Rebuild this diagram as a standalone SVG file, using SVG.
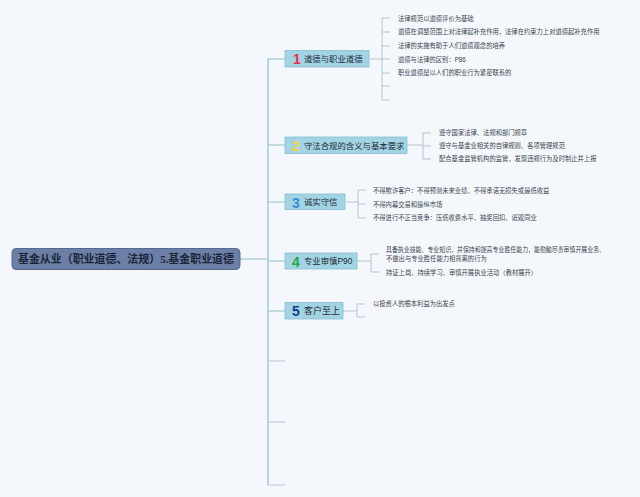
<svg xmlns="http://www.w3.org/2000/svg" width="640" height="497" viewBox="0 0 640 497">
<style>
.bg{fill:#f4f8fc}
.trunk{stroke:#94c0c6;stroke-width:1.2;fill:none}
.sub{stroke:#b5c4cc;stroke-width:1;fill:none}
.node{fill:#a3d4e4;stroke:#86bfd2;stroke-width:0.8}
.root{fill:#6b7fa7;stroke:#56698f;stroke-width:1}
.rt{font-family:"Liberation Serif","Noto Sans CJK SC",serif;font-size:11.3px;font-weight:bold;fill:#1b2538}
.nt{font-family:"Liberation Sans","Noto Sans CJK SC",sans-serif;font-size:8.4px;fill:#1f2b38}
.num{font-family:"Liberation Sans","Noto Sans CJK SC",sans-serif;font-size:14px;font-weight:bold}
.ct{font-family:"Liberation Sans","Noto Sans CJK SC",sans-serif;font-size:6.3px;fill:#3a4450}
</style>
<rect class="bg" x="0" y="0" width="640" height="497"/>
<g id="connectors">
<path class="trunk" d="M240 259 H268 M268 59 V485 M268 59 H285 M268 145 H285 M268 202 H285 M268 261 H285 M268 311 H285"/>
<path class="sub" d="M268 361 H285 M268 422 H285 M268 485 H285"/>
<path class="sub" d="M369 59 H382 M382 18 V100 M382 18 H390 M382 32 H390 M382 46 H390 M382 59 H390 M382 73 H390 M382 86 H390 M382 100 H390"/>
<path class="sub" d="M407 145 H423 M423 133 V159 M423 133 H431 M423 146 H431 M423 159 H431"/>
<path class="sub" d="M345 202 H358 M358 190 V218 M358 190 H366 M358 204 H366 M358 218 H366"/>
<path class="sub" d="M357 261 H371 M371 254 V272 M371 254 H379 M371 272 H379"/>
<path class="sub" d="M343 311 H357 M357 304 V317 M357 304 H365 M357 317 H365"/>
</g>
<g id="root">
<rect class="root" x="12" y="248.5" width="228" height="21" rx="4"/>
<text class="rt" x="18" y="263" textLength="216" lengthAdjust="spacingAndGlyphs">基金从业（职业道德、法规）5.基金职业道德</text>
</g>
<g id="n1">
<rect class="node" x="285" y="50.5" width="84" height="16.5"/>
<text class="num" x="293" y="64" fill="#e5334d">1</text>
<text class="nt" x="304" y="62">道德与职业道德</text>
</g>
<g id="n2">
<rect class="node" x="285" y="137" width="122" height="16.5"/>
<text class="num" x="292" y="151" fill="#f2d24a">2</text>
<text class="nt" x="304" y="148.5">守法合规的含义与基本要求</text>
</g>
<g id="n3">
<rect class="node" x="285" y="194" width="60" height="15.5"/>
<text class="num" x="292" y="207.5" fill="#3b8ed6">3</text>
<text class="nt" x="304" y="205">诚实守信</text>
</g>
<g id="n4">
<rect class="node" x="285" y="253" width="72" height="16"/>
<text class="num" x="292" y="266.5" fill="#27a547">4</text>
<text class="nt" x="304" y="264">专业审慎P90</text>
</g>
<g id="n5">
<rect class="node" x="285" y="302.5" width="58" height="16.5"/>
<text class="num" x="292" y="316" fill="#1b3c8c">5</text>
<text class="nt" x="304" y="314" style="font-size:9px">客户至上</text>
</g>
<g id="n1-children">
<text class="ct" x="398" y="20.5">法律规范以道德评价为基础</text>
<text class="ct" x="398" y="34">道德在调整范围上对法律起补充作用，法律在约束力上对道德起补充作用</text>
<text class="ct" x="398" y="48">法律的实施有助于人们道德观念的培养</text>
<text class="ct" x="398" y="61.5">道德与法律的区别：P86</text>
<text class="ct" x="398" y="75">职业道德是以人们的职业行为紧密联系的</text>
</g>
<g id="n2-children">
<text class="ct" x="439" y="135">遵守国家法律、法规和部门规章</text>
<text class="ct" x="439" y="148">遵守与基金业相关的自律规则、各项管理规范</text>
<text class="ct" x="439" y="161">配合基金监管机构的监管，发现违规行为及时制止并上报</text>
</g>
<g id="n3-children">
<text class="ct" x="373" y="193">不得欺诈客户：不得预测未来业绩、不得承诺无损失或最低收益</text>
<text class="ct" x="373" y="206.5">不得内幕交易和操纵市场</text>
<text class="ct" x="373" y="220">不得进行不正当竞争：压低收费水平、抽奖回扣、诋毁同业</text>
</g>
<g id="n4-children">
<text class="ct" x="386" y="252" textLength="219" lengthAdjust="spacingAndGlyphs">具备执业技能、专业知识，并保持和提高专业胜任能力，能勤勉尽责审慎开展业务、</text>
<text class="ct" x="386" y="261">不做出与专业胜任能力相背离的行为</text>
<text class="ct" x="386" y="275">持证上岗、持续学习、审慎开展执业活动（教材展开）</text>
</g>
<g id="n5-children">
<text class="ct" x="373" y="306">以投资人的根本利益为出发点</text>
</g>
</svg>
